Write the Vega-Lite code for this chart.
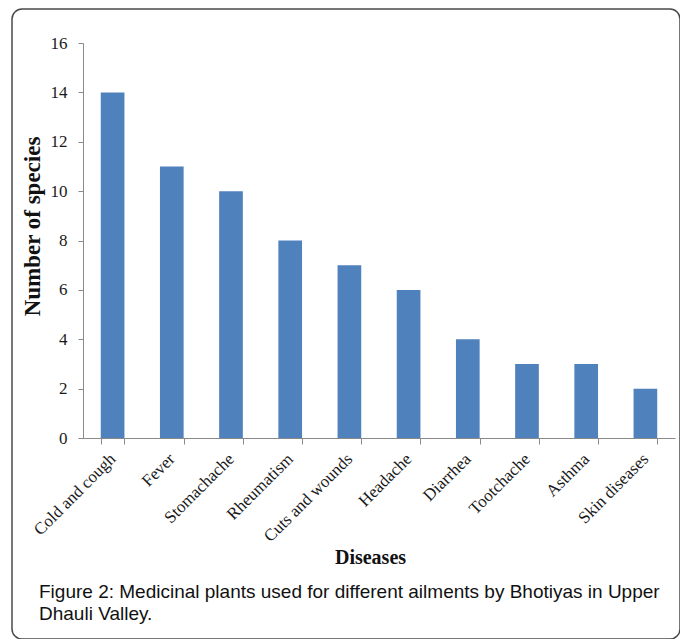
{
  "$schema": "https://vega.github.io/schema/vega-lite/v6.json",
  "autosize": "none",
  "padding": {"left": 12, "top": 9, "right": 0, "bottom": 0},
  "width": 668,
  "height": 630,
  "background": "white",
  "view": {"stroke": "#4a4a4a", "strokeWidth": 1.5, "cornerRadius": 10, "fill": "white"},
  "title": {
    "text": ["Figure 2: Medicinal plants used for different ailments by Bhotiyas in Upper", "Dhauli Valley."],
    "orient": "bottom",
    "anchor": "start",
    "frame": "group",
    "dx": 27,
    "offset": -56,
    "font": "Liberation Sans",
    "fontSize": 19,
    "fontWeight": "normal",
    "lineHeight": 22,
    "color": "#111"
  },
  "data": {
    "values": [
      {"disease": "Cold and cough", "species": 14},
      {"disease": "Fever", "species": 11},
      {"disease": "Stomachache", "species": 10},
      {"disease": "Rheumatism", "species": 8},
      {"disease": "Cuts and wounds", "species": 7},
      {"disease": "Headache", "species": 6},
      {"disease": "Diarrhea", "species": 4},
      {"disease": "Tootchache", "species": 3},
      {"disease": "Asthma", "species": 3},
      {"disease": "Skin diseases", "species": 2}
    ]
  },
  "mark": {"type": "bar", "color": "#4f81bd"},
  "encoding": {
    "x": {
      "field": "disease",
      "type": "nominal",
      "sort": null,
      "scale": {"range": [71, 663], "paddingInner": 0.6, "paddingOuter": 0.3},
      "axis": {
        "orient": "bottom",
        "offset": -201,
        "title": "Diseases",
        "titleFont": "Liberation Serif",
        "titleFontSize": 20,
        "titleFontWeight": "bold",
        "titleColor": "#111",
        "titleX": 358,
        "titleY": 125,
        "titleBaseline": "alphabetic",
        "titleAnchor": null,
        "labelAngle": -45,
        "labelAlign": "right",
        "labelBaseline": "middle",
        "labelFont": "Liberation Serif",
        "labelFontSize": 17,
        "labelColor": "#1a1a1a",
        "labelPadding": 12,
        "labelOverlap": false,
        "labelLimit": 300,
        "tickBand": "extent",
        "tickSize": 6,
        "tickColor": "#8a8a8a",
        "domainColor": "#8a8a8a",
        "grid": false
      }
    },
    "y": {
      "field": "species",
      "type": "quantitative",
      "scale": {"domain": [0, 16], "range": [429, 34], "nice": false},
      "axis": {
        "orient": "left",
        "offset": -71,
        "values": [0, 2, 4, 6, 8, 10, 12, 14, 16],
        "title": "Number of species",
        "titleFont": "Liberation Serif",
        "titleFontSize": 23,
        "titleFontWeight": "bold",
        "titleColor": "#111",
        "titleAngle": -90,
        "titleX": -51,
        "titleY": 217,
        "titleBaseline": "middle",
        "titleAlign": "center",
        "labelFont": "Liberation Serif",
        "labelFontSize": 17,
        "labelColor": "#1a1a1a",
        "labelPadding": 11,
        "tickSize": 5,
        "tickColor": "#8a8a8a",
        "domainColor": "#8a8a8a",
        "grid": false
      }
    }
  }
}
